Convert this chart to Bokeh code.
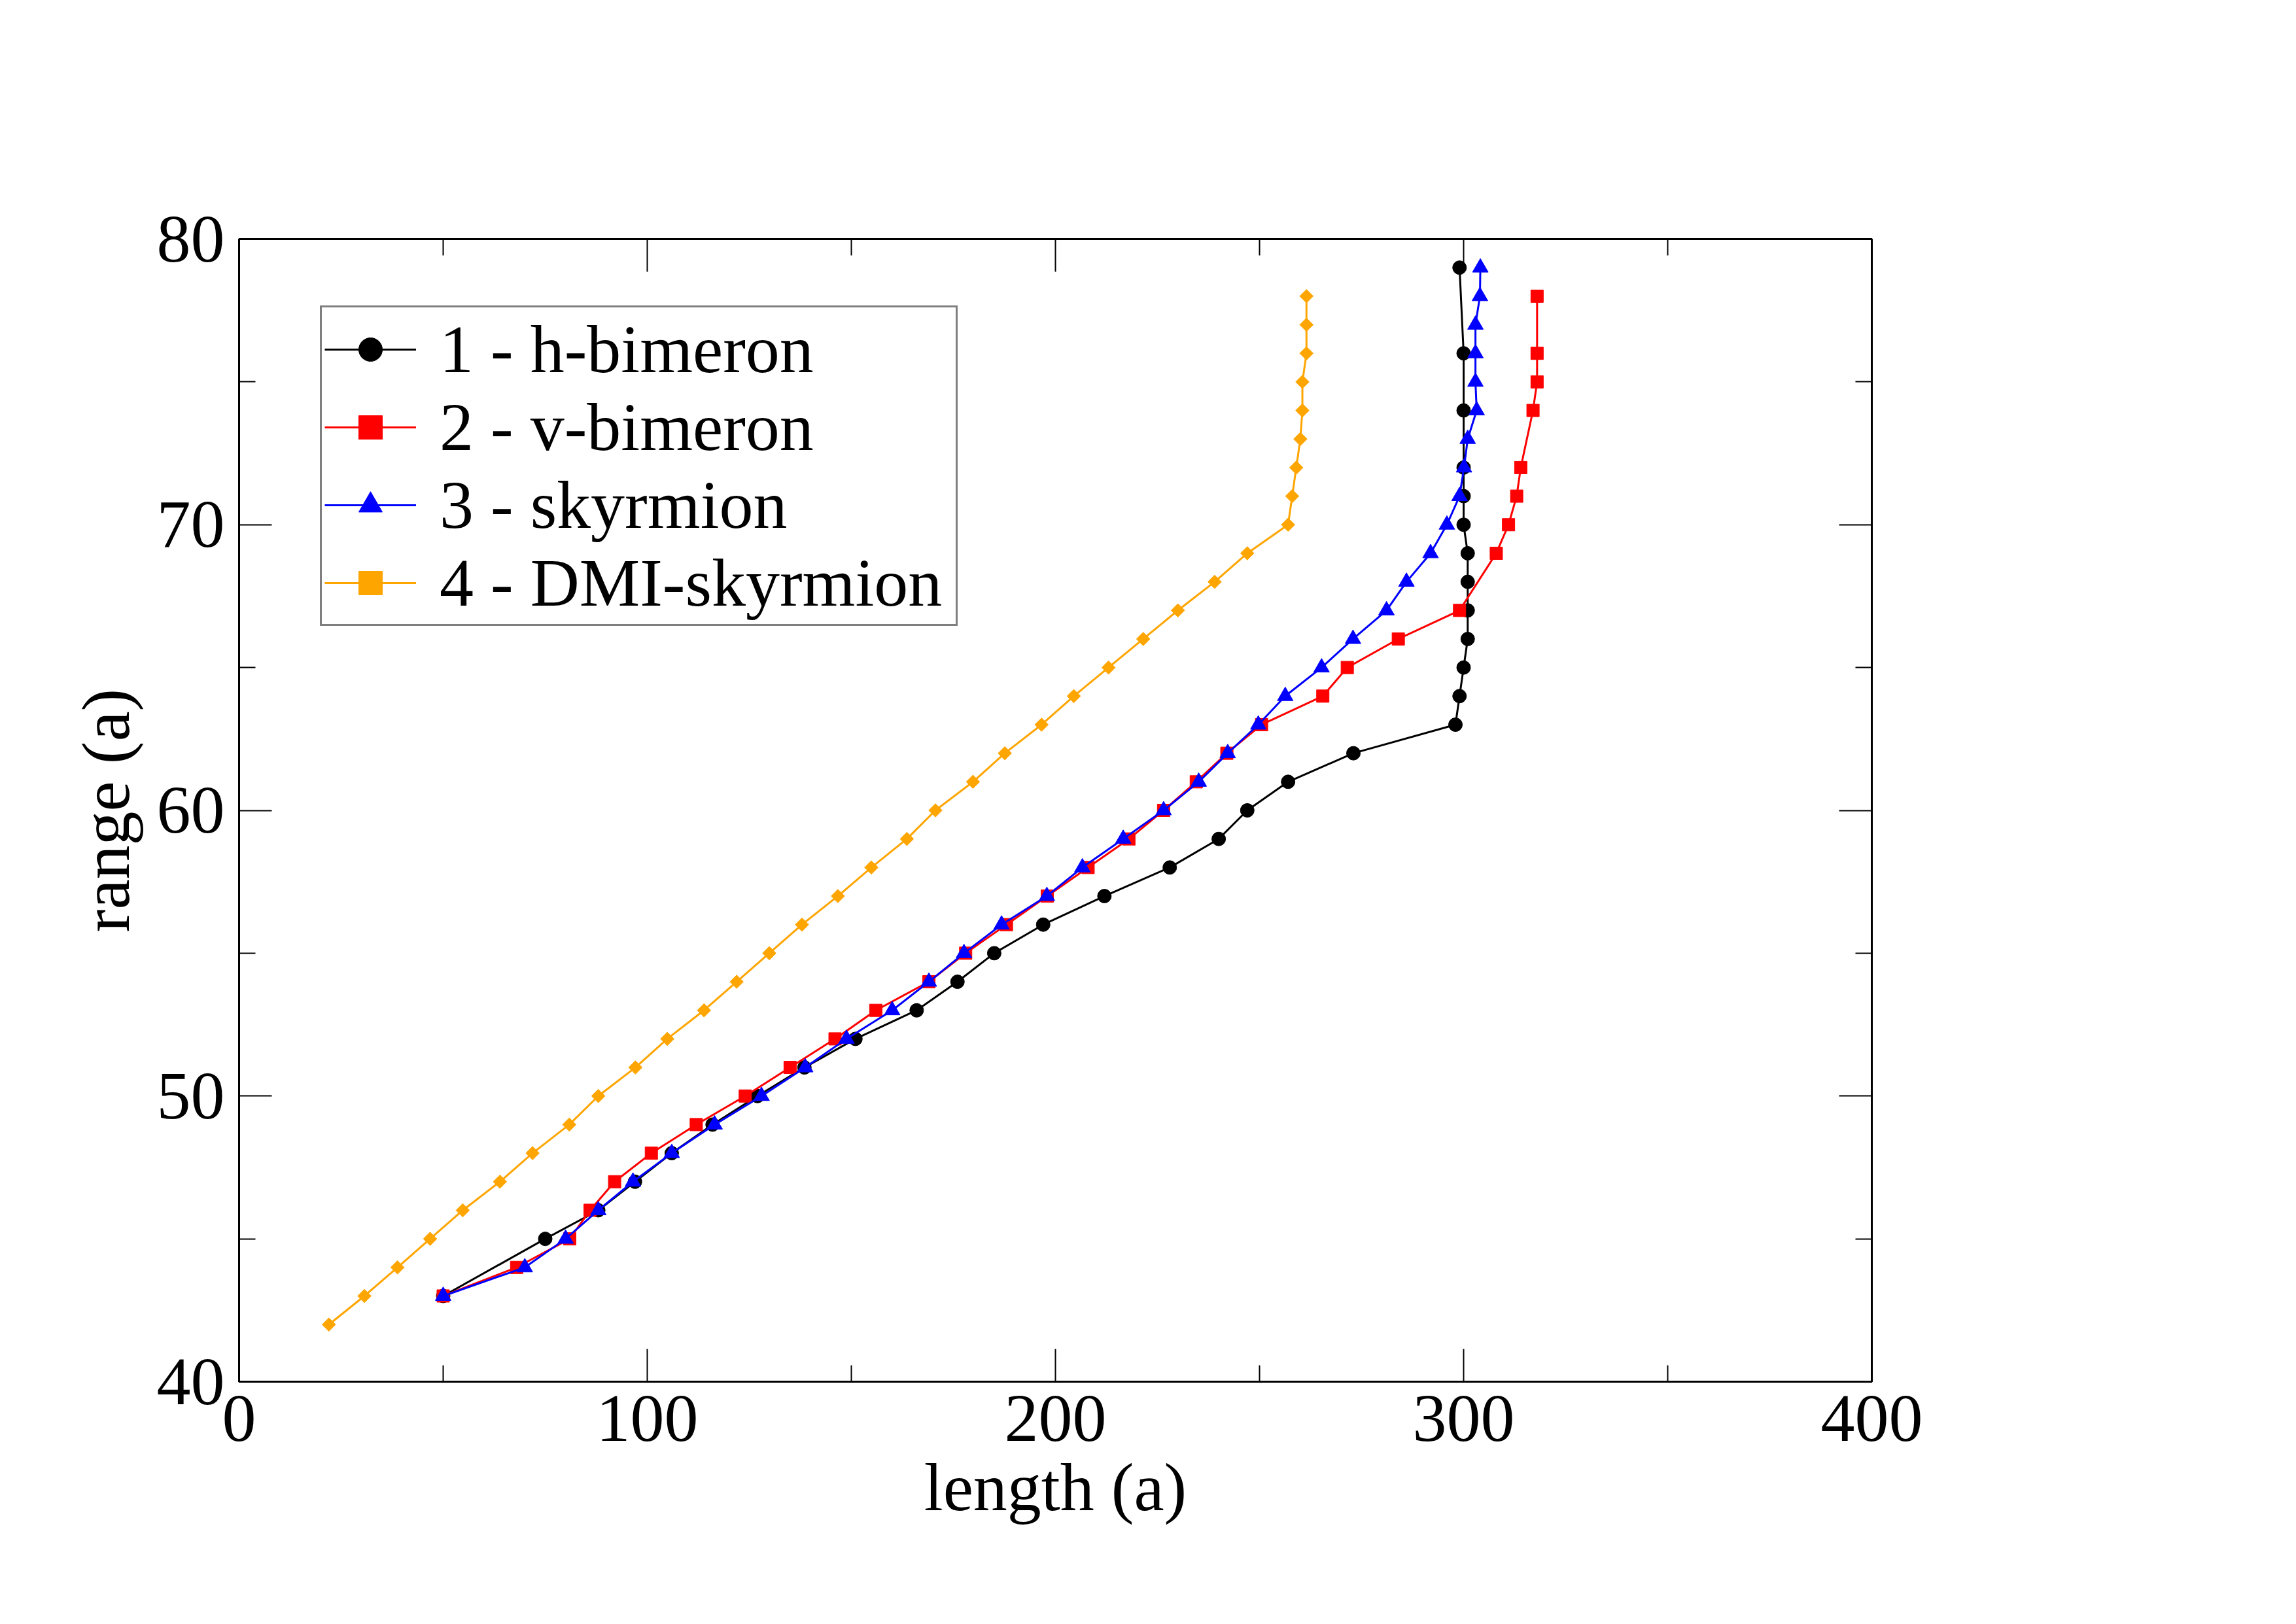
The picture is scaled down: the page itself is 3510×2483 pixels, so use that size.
import math
from bokeh.plotting import figure
from bokeh.models import (Range1d, LinearAxis, Legend, LegendItem, FixedTicker,
                          CustomLabelingPolicy)
from bokeh.embed import file_html
from bokeh.resources import INLINE

# ---- data ----
h_bimeron_y = [43, 45, 46, 47, 48, 49, 50, 51, 52, 53, 54, 55, 56, 57, 58, 59, 60, 61, 62,
               63, 64, 65, 66, 67, 68, 69, 70, 71, 72, 74, 76, 79]
h_bimeron_x = [50, 75, 88, 97, 106, 116, 127, 138.5, 151, 166, 176, 185, 197, 212, 228, 240,
               247, 257, 273, 298, 299, 300, 301, 301, 301, 301, 300, 300, 300, 300, 300, 299]

v_bimeron_y = [43, 44, 45, 46, 47, 48, 49, 50, 51, 52, 53, 54, 55, 56, 57, 58, 59, 60, 61,
               62, 63, 64, 65, 66, 67, 69, 70, 71, 72, 74, 75, 76, 78]
v_bimeron_x = [50, 68, 81, 86, 92, 101, 112, 124, 135, 146, 156, 169, 178, 188, 198, 208, 218,
               226.5, 234.5, 242, 250.5, 265.5, 271.5, 284, 299, 308, 311, 313, 314, 317, 318,
               318, 318]

skyrmion_y = list(range(43, 80))
skyrmion_x = [50, 70, 80, 88, 96.5, 106, 116.5, 128, 138.7, 148.8, 160, 169, 177.6, 186.8,
              197.9, 206.6, 216.6, 226.5, 235.1, 242.2, 249.7, 256.3, 265.2, 272.9, 281.1,
              286, 291.9, 295.9, 299, 300.1, 301, 303.2, 302.9, 302.9, 302.9, 304, 304.1]

dmi_y = list(range(42, 79))
dmi_x = [22, 30.7, 38.8, 46.8, 54.8, 63.9, 71.9, 80.9, 88, 97.1, 104.9, 113.9, 121.9, 129.9,
         137.9, 146.7, 154.9, 163.6, 170.6, 179.8, 187.6, 196.6, 204.5, 213, 221.5, 230, 239,
         247, 257, 258, 259, 260, 260.5, 260.5, 261.5, 261.5, 261.5]

labels = ["1 - h-bimeron", "2 - v-bimeron", "3 - skyrmion", "4 - DMI-skyrmion"]
x_ticks = [0, 100, 200, 300, 400]
y_ticks = [40, 50, 60, 70, 80]

FONT = "Liberation Serif"
FS = "104px"

p = figure(frame_width=2496, frame_height=1747,
           x_range=Range1d(0, 400), y_range=Range1d(40, 80),
           output_backend="svg", toolbar_location=None,
           min_border_left=365, min_border_top=365,
           min_border_right=633, min_border_bottom=355)
p.background_fill_color = "white"
p.border_fill_color = "white"
p.grid.visible = False
p.outline_line_color = "black"
p.outline_line_width = 3

no_labels = CustomLabelingPolicy(code="""
const ids = Array.from(indices);
for (const i of ids) { indices.unset(i); }
return indices;
""")


def style_axis(ax, ticks, show_labels=True):
    step = ticks[1] - ticks[0]
    ax.ticker = FixedTicker(ticks=ticks, minor_ticks=[t + step / 2 for t in ticks[:-1]])
    ax.major_tick_in = 50
    ax.major_tick_out = 0
    ax.minor_tick_in = 25
    ax.minor_tick_out = 0
    ax.major_tick_line_color = "black"
    ax.minor_tick_line_color = "black"
    ax.major_tick_line_width = 2
    ax.minor_tick_line_width = 2
    ax.axis_line_color = "black"
    ax.axis_line_width = 3
    ax.major_label_text_font = FONT
    ax.major_label_text_font_size = FS
    ax.major_label_text_color = "black"
    ax.axis_label_text_font = FONT
    ax.axis_label_text_font_size = FS
    ax.axis_label_text_font_style = "normal"
    ax.axis_label_text_color = "black"
    if not show_labels:
        ax.major_label_policy = no_labels
        ax.major_label_standoff = 0


style_axis(p.xaxis[0], x_ticks)
style_axis(p.yaxis[0], y_ticks)
p.xaxis[0].axis_label = "length (a)"
p.yaxis[0].axis_label = "range (a)"
p.xaxis[0].major_label_standoff = 22
p.yaxis[0].major_label_standoff = 22
p.xaxis[0].axis_label_standoff = 10
p.yaxis[0].axis_label_standoff = 18

top_ax = LinearAxis()
style_axis(top_ax, x_ticks, show_labels=False)
p.add_layout(top_ax, "above")
right_ax = LinearAxis()
style_axis(right_ax, y_ticks, show_labels=False)
p.add_layout(right_ax, "right")

series = [
    (h_bimeron_x, h_bimeron_y, "black", "circle", 21, 0),
    (v_bimeron_x, v_bimeron_y, "red", "square", 19, 0),
    (skyrmion_x, skyrmion_y, "blue", "triangle", 24, 0),
    (dmi_x, dmi_y, "orange", "square", 14.5, math.pi / 4),
]

items = []
for (xs, ys, color, marker, size, ang), lab in zip(series, labels):
    ln = p.line(xs, ys, line_color=color, line_width=3)
    sc = p.scatter(xs, ys, marker=marker, size=size, angle=ang,
                   fill_color=color, line_color=color)
    items.append(LegendItem(label=lab, renderers=[ln, sc]))

legend = Legend(items=items, location=(124, 1155))
legend.label_text_font = FONT
legend.label_text_font_size = FS
legend.label_text_color = "black"
legend.glyph_width = 140
legend.glyph_height = 90
legend.label_height = 90
legend.label_width = 785
legend.label_standoff = 36
legend.spacing = 0
legend.padding = 4
legend.margin = 0
legend.border_line_color = "black"
legend.border_line_width = 3
legend.background_fill_alpha = 1
p.add_layout(legend, "center")

open("out.html", "w").write(file_html(p, INLINE))
